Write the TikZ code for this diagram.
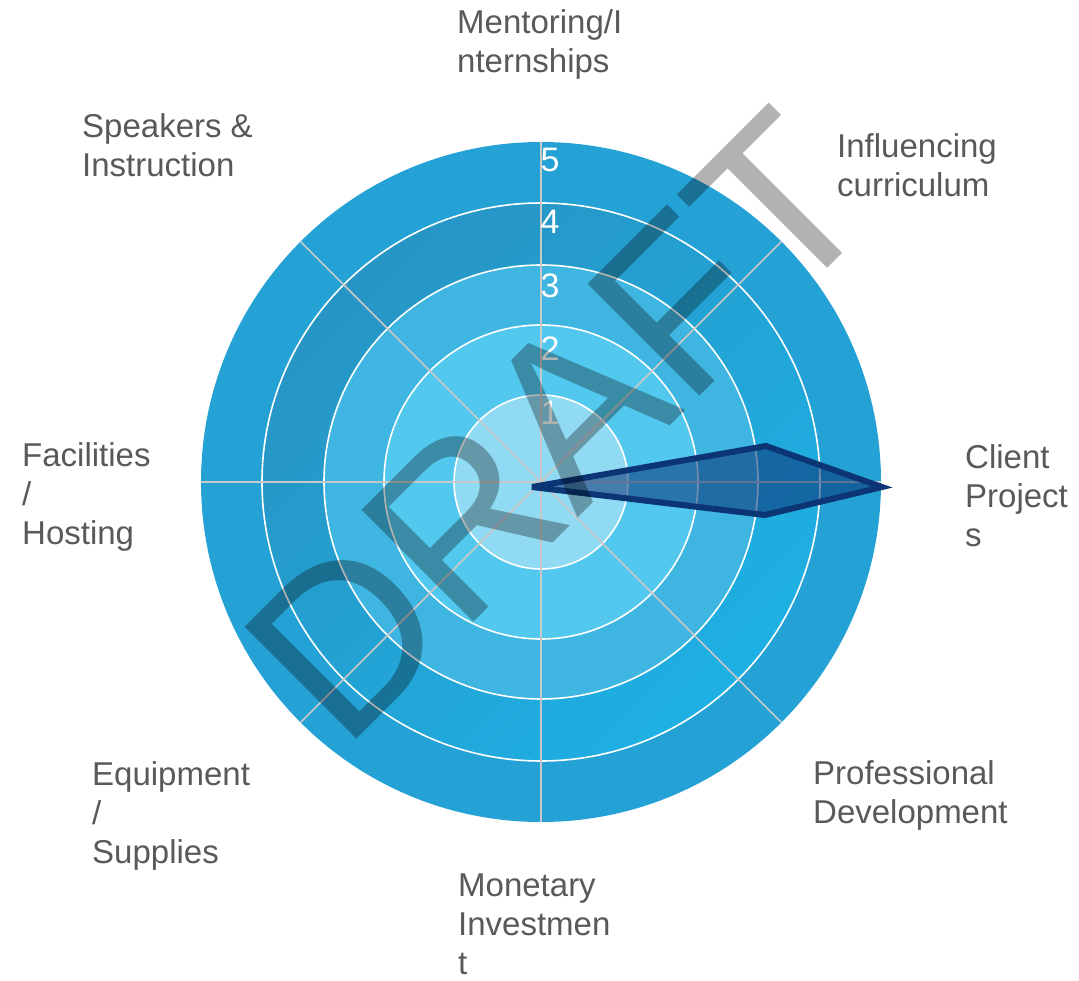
\documentclass[tikz,border=0pt]{standalone}
\usepackage{fontspec}
\setmainfont{Liberation Sans}
\usetikzlibrary{positioning}
\definecolor{bandA}{HTML}{90DBF3}
\definecolor{bandB}{HTML}{52C8EE}
\definecolor{bandC}{HTML}{3FB5E1}
\definecolor{bandDdark}{HTML}{2795C4}
\definecolor{bandDlight}{HTML}{1EB0E4}
\definecolor{bandE}{HTML}{24A1D5}
\definecolor{spokegray}{HTML}{C8C8C8}
\definecolor{labelgray}{HTML}{595959}
\definecolor{navyline}{HTML}{0B3575}
\tikzset{
	ringline/.style={draw=white, line width=1.6pt},
	spoke/.style={draw=spokegray, line width=1.6pt},
	ringnum/.style={font=\fontsize{34}{34}\selectfont, text=white, inner sep=0pt},
	axislabel/.style={font=\fontsize{33}{39}\selectfont, text=labelgray, align=left, anchor=north west, inner sep=0pt},
	datapoly/.style={draw=navyline, line width=6pt, line join=miter, miter limit=4, fill=navyline, fill opacity=0.57},
	watermark/.style={font=\fontsize{230}{230}\selectfont, text=black, text opacity=0.3, rotate=45, anchor=base west, inner sep=0pt}
}
\begin{document}
\begin{tikzpicture}[x=1pt,y=-1pt]
	\useasboundingbox (0,0) rectangle (1079,981);
	\coordinate (O) at (541,482);
	% bands of the chart
	\fill[bandE] (O) circle[radius=340];
	\shade[top color=bandDdark, bottom color=bandDlight, shading angle=45] (O) circle[radius=279];
	\fill[bandC] (O) circle[radius=217];
	\fill[bandB] (O) circle[radius=157];
	\fill[bandA] (O) circle[radius=87];
	\draw[ringline] (O) circle[radius=87];
	\draw[ringline] (O) circle[radius=157];
	\draw[ringline] (O) circle[radius=217];
	\draw[ringline] (O) circle[radius=279];
	% spokes
	\draw[spoke] (O) -- ++(0:340);
	\draw[spoke] (O) -- ++(45:340);
	\draw[spoke] (O) -- ++(90:340);
	\draw[spoke] (O) -- ++(135:340);
	\draw[spoke] (O) -- ++(180:340);
	\draw[spoke] (O) -- ++(225:340);
	\draw[spoke] (O) -- ++(270:340);
	\draw[spoke] (O) -- ++(315:340);
	% scale
	\node[ringnum] (n5) at (550,160) {5};
	\node[ringnum] (n4) at (550,222) {4};
	\node[ringnum] (n3) at (550,286) {3};
	\node[ringnum] (n2) at (550,349) {2};
	\node[ringnum] (n1) at (550,413) {1};
	% data
	\draw[datapoly] (532,487) -- (766,446) -- (882,487) -- (765,515) -- cycle;
	% axis labels
	\node[axislabel] (mentor) at (457,9) {Mentoring/I\\nternships};
	\node[axislabel] (influence) at (837,133) {Influencing\\curriculum};
	\node[axislabel] (client) at (965,444) {Client\\Project\\s};
	\node[axislabel] (profdev) at (813,760) {Professional\\Development};
	\node[axislabel] (money) at (458,874) {Monetary\\Investmen\\t};
	\node[axislabel] (equip) at (92,761) {Equipment\\/\\Supplies};
	\node[axislabel] (facil) at (22,442) {Facilities\\/\\Hosting};
	\node[axislabel] (speak) at (82,113) {Speakers \&\\Instruction};
	% watermark
	\node[watermark] (draft) at (343,753) {DRAFT};
\end{tikzpicture}
\end{document}
